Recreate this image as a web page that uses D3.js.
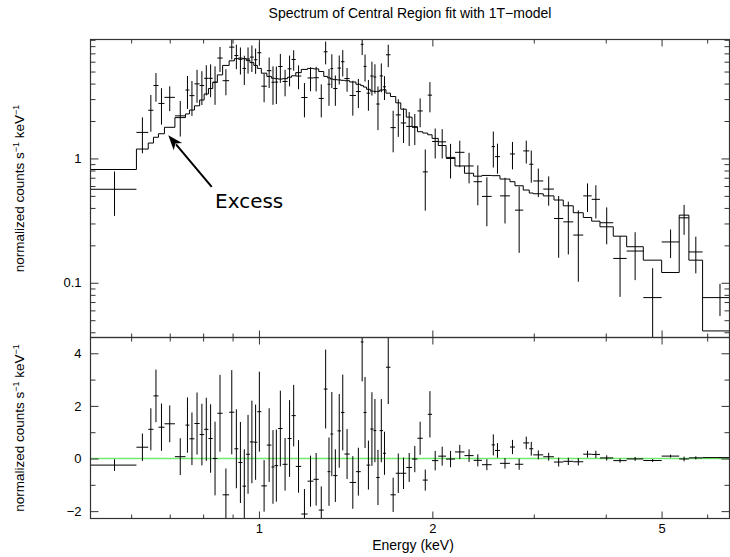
<!DOCTYPE html>
<html>
<head>
<meta charset="utf-8">
<script src="https://cdn.jsdelivr.net/npm/d3@7"></script>
<style>
  html, body { margin: 0; padding: 0; background: #fff; }
  svg { display: block; font-family: "Liberation Sans", Arial, sans-serif; }
</style>
</head>
<body>
<div id="chart"></div>
<script>
// ---- data ----
// channel bin edges in keV (bins are contiguous)
const binEdges = [
  0.51, 0.6128, 0.6424, 0.6559, 0.6692, 0.6854, 0.7147, 0.7455, 0.7574, 0.7727,
  0.7889, 0.8033, 0.8172, 0.8313, 0.8468, 0.8649, 0.8877, 0.9064, 0.9210, 0.9362,
  0.9501, 0.9646, 0.9798, 0.9936, 1.0096, 1.0321, 1.0512, 1.0643, 1.0798, 1.0989,
  1.1212, 1.1393, 1.1586, 1.1844, 1.2145, 1.2435, 1.2701, 1.2957, 1.3155, 1.3308,
  1.3458, 1.3686, 1.3884, 1.4075, 1.4370, 1.4737, 1.5023, 1.5192, 1.5375, 1.5605,
  1.5812, 1.5984, 1.6202, 1.6418, 1.6616, 1.6918, 1.7280, 1.7629, 1.8021, 1.8443,
  1.8845, 1.9249, 1.9637, 1.9978, 2.0479, 2.1128, 2.1893, 2.2741, 2.3584, 2.4389,
  2.5351, 2.5688, 2.6207, 2.7276, 2.7826, 2.8765, 2.9463, 2.9938, 3.1160, 3.2522,
  3.3753, 3.5131, 3.6564, 3.7813, 3.9089, 4.1220, 4.3489, 4.6481, 5.0019, 5.3649,
  5.5769, 5.8907, 6.74
];

// observed normalized counts s^-1 keV^-1
const counts = [
  0.565, 1.62, 2.44, 3.86, 2.77, 3.10, 2.20, 3.55, 3.20, 3.98,
  3.86, 4.41, 4.41, 4.10, 6.42, 4.22, 7.86, 6.72, 6.27, 5.30,
  6.31, 6.53, 6.22, 7.08, 3.81, 5.08, 4.10, 4.11, 5.49, 4.16,
  5.26, 6.25, 4.60, 3.09, 4.44, 4.46, 3.04, 7.21, 3.95, 5.28,
  3.65, 5.33, 6.00, 4.39, 3.21, 3.45, 8.28, 5.50, 3.35, 4.60,
  4.52, 2.74, 4.61, 3.77, 6.82, 1.77, 2.24, 1.93, 1.81, 1.78,
  2.41, 0.78, 3.23, 1.37, 1.36, 1.00, 1.12, 0.87, 0.65, 0.495,
  1.245, 1.034, 0.50, 1.087, 0.384, 1.15, 0.898, 0.659, 0.567, 0.329,
  0.309, 0.242, 0.50, 0.469, 0.304, 0.157, 0.18, 0.076, 0.213, 0.333,
  0.177, 0.076
];

// 1-sigma errors on the counts
const errors = [
  0.22, 0.52, 0.80, 1.00, 0.90, 0.70, 0.70, 1.05, 1.00, 1.18,
  1.17, 1.20, 1.30, 1.40, 1.46, 1.00, 1.60, 1.50, 1.54, 1.40,
  1.50, 1.57, 1.43, 1.52, 0.98, 1.40, 1.40, 1.37, 1.44, 1.00,
  1.46, 1.17, 1.00, 0.95, 0.97, 1.00, 0.90, 1.50, 1.30, 1.60,
  1.00, 1.40, 1.44, 0.95, 1.00, 0.91, 1.50, 1.35, 0.93, 1.40,
  1.20, 1.05, 1.20, 0.82, 1.40, 0.65, 0.75, 0.60, 0.55, 0.50,
  0.63, 0.40, 0.88, 0.37, 0.36, 0.31, 0.27, 0.24, 0.23, 0.21,
  0.40, 0.28, 0.20, 0.27, 0.21, 0.24, 0.26, 0.17, 0.15, 0.17,
  0.14, 0.14, 0.13, 0.14, 0.10, 0.08, 0.075, 0.055, 0.055, 0.09,
  0.058, 0.022
];

// folded 1T model per bin
const model = [
  0.815, 1.19, 1.33, 1.48, 1.58, 1.78, 2.13, 2.28, 2.45, 2.65,
  2.95, 3.30, 3.65, 4.10, 4.70, 5.60, 6.10, 6.35, 6.42, 6.35,
  6.15, 5.90, 5.60, 5.30, 4.85, 4.57, 4.42, 4.38, 4.35, 4.38,
  4.50, 4.62, 4.90, 5.20, 5.30, 5.25, 5.00, 4.57, 4.45, 4.35,
  4.30, 4.28, 4.25, 4.22, 4.12, 3.95, 3.85, 3.75, 3.60, 3.48,
  3.46, 3.46, 3.55, 3.57, 3.35, 3.15, 2.80, 2.49, 2.15, 1.80,
  1.64, 1.60, 1.55, 1.45, 1.27, 1.02, 0.87, 0.76, 0.72, 0.73,
  0.727, 0.727, 0.683, 0.65, 0.603, 0.557, 0.527, 0.52, 0.50, 0.463,
  0.416, 0.366, 0.335, 0.313, 0.282, 0.237, 0.195, 0.152, 0.121, 0.35,
  0.152, 0.041
];

// axes
const xDomain = [0.51, 6.56];
const yTopDomain = [0.0363, 9.05];
const yBotDomain = [-2.28, 4.6];
const xMajorTicks = [1, 2, 5];
const xMinorTicks = [0.6, 0.7, 0.8, 0.9, 3, 4, 6];
const yTopMajorTicks = [0.1, 1];
const yTopMinorTicks = [0.04, 0.05, 0.06, 0.07, 0.08, 0.09, 0.2, 0.3, 0.4, 0.5, 0.6, 0.7, 0.8, 0.9, 2, 3, 4, 5, 6, 7, 8, 9];
const yBotMajorTicks = [-2, 0, 2, 4];
const yBotMinorTicks = [-1, 1, 3];

// annotation (data coordinates)
const excessArrow = { tip: [0.696, 1.54], tail: [0.828, 0.591] };
const excessText = { at: [0.839, 0.398], label: "Excess" };

const titleText = "Spectrum of Central Region fit with 1T\u2212model";
const xLabel = "Energy (keV)";

// ---- layout ----
const W = 730, H = 557;
const frame = { left: 90.5, right: 729.5, top: 39.5, mid: 337.5, bottom: 518.5 };

const svg = d3.select("#chart").append("svg")
  .attr("width", W)
  .attr("height", H);

const x = d3.scaleLog().domain(xDomain).range([frame.left, frame.right]);
const yTop = d3.scaleLog().domain(yTopDomain).range([frame.mid, frame.top]);
const yBot = d3.scaleLinear().domain(yBotDomain).range([frame.bottom, frame.mid]);

const bins = counts.map((c, i) => {
  const lo = binEdges[i], hi = binEdges[i + 1];
  return { lo, hi, mid: (lo + hi) / 2, c, err: errors[i], m: model[i], r: c - model[i] };
});

// clip paths
const defs = svg.append("defs");
defs.append("clipPath").attr("id", "clipTop").append("rect")
  .attr("x", frame.left).attr("y", frame.top)
  .attr("width", frame.right - frame.left).attr("height", frame.mid - frame.top);
defs.append("clipPath").attr("id", "clipBot").append("rect")
  .attr("x", frame.left).attr("y", frame.mid)
  .attr("width", frame.right - frame.left).attr("height", frame.bottom - frame.mid);

// ---- top panel ----
const gTop = svg.append("g").attr("clip-path", "url(#clipTop)");

gTop.append("g")
  .selectAll("path")
  .data(bins)
  .enter()
  .append("path")
  .attr("fill", "none")
  .attr("stroke", "#000")
  .attr("stroke-width", 1)
  .attr("d", d => {
    const yc = yTop(d.c);
    const yHi = yTop(d.c + d.err);
    const yLo = yTop(Math.max(d.c - d.err, 1e-4));
    return `M${x(d.lo)},${yc}H${x(d.hi)}M${x(d.mid)},${yHi}V${yLo}`;
  });

const stepPts = bins.map(d => [d.lo, d.m]);
stepPts.push([bins[bins.length - 1].hi, bins[bins.length - 1].m]);

gTop.append("path")
  .datum(stepPts)
  .attr("fill", "none")
  .attr("stroke", "#000")
  .attr("stroke-width", 1)
  .attr("d", d3.line()
    .x(d => x(d[0]))
    .y(d => yTop(d[1]))
    .curve(d3.curveStepAfter));

// ---- bottom panel (residuals) ----
const gBot = svg.append("g").attr("clip-path", "url(#clipBot)");

gBot.append("line")
  .attr("x1", frame.left).attr("x2", frame.right)
  .attr("y1", yBot(0)).attr("y2", yBot(0))
  .attr("stroke", "#72ea72")
  .attr("stroke-width", 1.6);

gBot.append("g")
  .selectAll("path")
  .data(bins)
  .enter()
  .append("path")
  .attr("fill", "none")
  .attr("stroke", "#000")
  .attr("stroke-width", 1)
  .attr("d", d => {
    const yc = yBot(d.r);
    return `M${x(d.lo)},${yc}H${x(d.hi)}M${x(d.mid)},${yBot(d.r + d.err)}V${yBot(d.r - d.err)}`;
  });

// ---- frames and ticks ----
const frameColor = "#333";

function addAxis(axis, transform, showLabels) {
  const g = svg.append("g").attr("transform", transform).call(axis);
  g.select(".domain").remove();
  g.selectAll(".tick line").attr("stroke", frameColor).attr("stroke-width", 1);
  g.selectAll(".tick text")
    .attr("fill", "#000")
    .style("font-family", "'Liberation Sans', Arial, sans-serif")
    .style("font-size", "13px");
  if (!showLabels) g.selectAll(".tick text").remove();
  return g;
}

// x ticks: top of top panel, separator (both sides), bottom of bottom panel
[[d3.axisTop, frame.top], [d3.axisBottom, frame.mid], [d3.axisTop, frame.mid]].forEach(([fn, yy]) => {
  addAxis(fn(x).tickValues(xMajorTicks).tickSize(-7), `translate(0,${yy})`, false);
  addAxis(fn(x).tickValues(xMinorTicks).tickSize(-4), `translate(0,${yy})`, false);
});
addAxis(d3.axisBottom(x).tickValues(xMajorTicks).tickSize(-7).tickPadding(5).tickFormat(d3.format("d")),
  `translate(0,${frame.bottom})`, true);
addAxis(d3.axisBottom(x).tickValues(xMinorTicks).tickSize(-4), `translate(0,${frame.bottom})`, false);

// y ticks top panel
addAxis(d3.axisLeft(yTop).tickValues(yTopMajorTicks).tickSize(-8).tickPadding(9).tickFormat(d => d < 1 ? "0.1" : "1"),
  `translate(${frame.left},0)`, true);
addAxis(d3.axisLeft(yTop).tickValues(yTopMinorTicks).tickSize(-5), `translate(${frame.left},0)`, false);
addAxis(d3.axisRight(yTop).tickValues(yTopMajorTicks).tickSize(-8), `translate(${frame.right},0)`, false);
addAxis(d3.axisRight(yTop).tickValues(yTopMinorTicks).tickSize(-5), `translate(${frame.right},0)`, false);

// y ticks bottom panel
addAxis(d3.axisLeft(yBot).tickValues(yBotMajorTicks).tickSize(-8).tickPadding(9).tickFormat(d3.format("d")),
  `translate(${frame.left},0)`, true);
addAxis(d3.axisLeft(yBot).tickValues(yBotMinorTicks).tickSize(-5), `translate(${frame.left},0)`, false);
addAxis(d3.axisRight(yBot).tickValues(yBotMajorTicks).tickSize(-8), `translate(${frame.right},0)`, false);
addAxis(d3.axisRight(yBot).tickValues(yBotMinorTicks).tickSize(-5), `translate(${frame.right},0)`, false);

// frames
[[frame.top, frame.mid], [frame.mid, frame.bottom]].forEach(([t, b]) => {
  svg.append("rect")
    .attr("x", frame.left).attr("y", t)
    .attr("width", frame.right - frame.left).attr("height", b - t)
    .attr("fill", "none")
    .attr("stroke", frameColor)
    .attr("stroke-width", 1.2);
});

// ---- texts ----
svg.append("text")
  .attr("x", (frame.left + frame.right) / 2)
  .attr("y", 18)
  .attr("text-anchor", "middle")
  .style("font-size", "14px")
  .attr("fill", "#000")
  .text(titleText);

svg.append("text")
  .attr("x", (frame.left + frame.right) / 2 + 3)
  .attr("y", 550)
  .attr("text-anchor", "middle")
  .style("font-size", "14px")
  .attr("fill", "#000")
  .text(xLabel);

function yLabel(cy) {
  const t = svg.append("text")
    .attr("transform", `translate(24,${cy}) rotate(-90)`)
    .attr("text-anchor", "middle")
    .attr("fill", "#000")
    .style("font-size", "13.5px");
  t.append("tspan").text("normalized counts s");
  t.append("tspan").attr("dy", -5).style("font-size", "9px").text("\u22121");
  t.append("tspan").attr("dy", 5).text(" keV");
  t.append("tspan").attr("dy", -5).style("font-size", "9px").text("\u22121");
}
yLabel((frame.top + frame.mid) / 2);
yLabel((frame.mid + frame.bottom) / 2);

// ---- "Excess" annotation ----
const tip = [x(excessArrow.tip[0]), yTop(excessArrow.tip[1])];
const tail = [x(excessArrow.tail[0]), yTop(excessArrow.tail[1])];
const dx = tip[0] - tail[0], dy = tip[1] - tail[1];
const len = Math.hypot(dx, dy);
const ux = dx / len, uy = dy / len;
const nx = -uy, ny = ux;
const headLen = 15, headHalf = 5.5;
const base = [tip[0] - ux * headLen, tip[1] - uy * headLen];

svg.append("line")
  .attr("x1", tail[0]).attr("y1", tail[1])
  .attr("x2", base[0] + ux * 3).attr("y2", base[1] + uy * 3)
  .attr("stroke", "#000")
  .attr("stroke-width", 2);

svg.append("path")
  .attr("fill", "#000")
  .attr("d", `M${tip[0]},${tip[1]}` +
    `L${base[0] + nx * headHalf},${base[1] + ny * headHalf}` +
    `L${tip[0] - ux * (headLen - 4)},${tip[1] - uy * (headLen - 4)}` +
    `L${base[0] - nx * headHalf},${base[1] - ny * headHalf}Z`);

svg.append("text")
  .attr("x", x(excessText.at[0]))
  .attr("y", yTop(excessText.at[1]))
  .style("font-family", "'DejaVu Sans', sans-serif")
  .style("font-size", "20px")
  .attr("fill", "#000")
  .text(excessText.label);
</script>
</body>
</html>
